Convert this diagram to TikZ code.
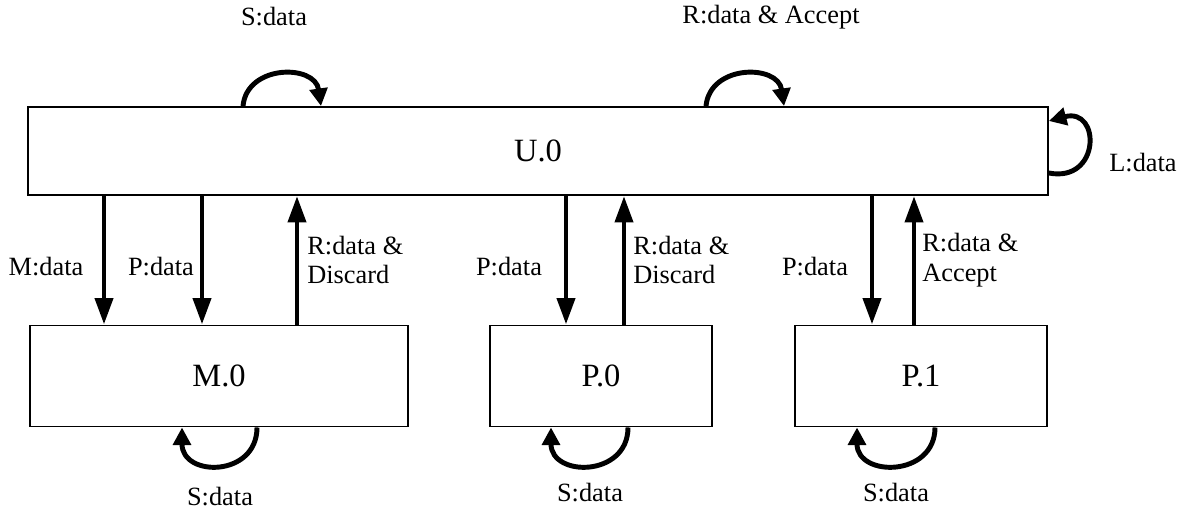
\documentclass[tikz,border=0pt]{standalone}
\usepackage{fontspec}
\setmainfont{Liberation Serif}
\usetikzlibrary{arrows.meta}
\tikzset{
  state/.style={draw,line width=1.1pt,inner sep=0pt,font=\fontsize{18.5}{20}\selectfont},
  flow/.style={line width=2.8pt,-{Triangle[width=10pt,length=15pt]}},
  selfloop/.style={line width=2.8pt,-{Triangle[width=10pt,length=10pt]}},
  lbl/.style={inner sep=0pt,align=left}
}
\begin{document}
\begin{tikzpicture}[x=0.02cm,y=-0.02cm,every node/.style={font=\fontsize{15}{17}\selectfont}]
  \useasboundingbox (0,0) rectangle (1183,514);
  \node[state,minimum width=20.4cm,minimum height=1.76cm] (u0) at (538,151) {U.0};
  \node[state,minimum width=7.56cm,minimum height=2.02cm] (m0) at (219,376) {M.0};
  \node[state,minimum width=4.44cm,minimum height=2.02cm] (p0) at (601,376) {P.0};
  \node[state,minimum width=5.04cm,minimum height=2.02cm] (p1) at (921,376) {P.1};
  % x positions of the flows
  \coordinate (xm) at (104,0);
  \coordinate (xpm) at (202,0);
  \coordinate (xrm) at (297,0);
  \coordinate (xp0) at (566,0);
  \coordinate (xr0) at (624,0);
  \coordinate (xp1) at (872,0);
  \coordinate (xr1) at (914,0);
  \draw[flow] (u0.south -| xm) -- (m0.north -| xm);
  \draw[flow] (u0.south -| xpm) -- (m0.north -| xpm);
  \draw[flow] (m0.north -| xrm) -- (u0.south -| xrm);
  \draw[flow] (u0.south -| xp0) -- (p0.north -| xp0);
  \draw[flow] (p0.north -| xr0) -- (u0.south -| xr0);
  \draw[flow] (u0.south -| xp1) -- (p1.north -| xp1);
  \draw[flow] (p1.north -| xr1) -- (u0.south -| xr1);
  \node[lbl] (lm) at (46,267) {M:data};
  \node[lbl] (lpm) at (161,267) {P:data};
  \node[lbl,anchor=west] (lrm) at (307,260) {R:data \&\\Discard};
  \node[lbl] (lp0) at (509,267) {P:data};
  \node[lbl,anchor=west] (lr0) at (633,260) {R:data \&\\Discard};
  \node[lbl] (lp1) at (815,267) {P:data};
  \node[lbl,anchor=west] (lr1) at (922,260) {R:data \&\\Accept};
  % self loops
  \coordinate (sa) at (243,0);
  \coordinate (sb) at (321,0);
  \coordinate (ra) at (706,0);
  \coordinate (rb) at (784,0);
  \coordinate (lt) at (0,121);
  \coordinate (lb) at (0,173);
  \coordinate (ma) at (257,0);
  \coordinate (mb) at (182,0);
  \coordinate (pa) at (628,0);
  \coordinate (pb) at (551,0);
  \coordinate (qa) at (935,0);
  \coordinate (qb) at (857,0);
  \draw[selfloop] (u0.north -| sa) .. controls +(4,-42) and +(-6,-42) .. (u0.north -| sb);
  \draw[selfloop] (u0.north -| ra) .. controls +(4,-42) and +(-6,-42) .. (u0.north -| rb);
  \draw[selfloop] (u0.east |- lb) .. controls +(52,10) and +(52,-14) .. (u0.east |- lt);
  \draw[selfloop] (m0.south -| ma) .. controls +(0,50) and +(0,50) .. (m0.south -| mb);
  \draw[selfloop] (p0.south -| pa) .. controls +(0,50) and +(0,50) .. (p0.south -| pb);
  \draw[selfloop] (p1.south -| qa) .. controls +(0,50) and +(0,50) .. (p1.south -| qb);
  \node (ls) at (274,17) {S:data};
  \node (lra) at (771,17) {R:data \& Accept};
  \node (ll) at (1143,163) {L:data};
  \node (lsm) at (220,497) {S:data};
  \node (lsp0) at (590,493) {S:data};
  \node (lsp1) at (896,493) {S:data};
\end{tikzpicture}
\end{document}
